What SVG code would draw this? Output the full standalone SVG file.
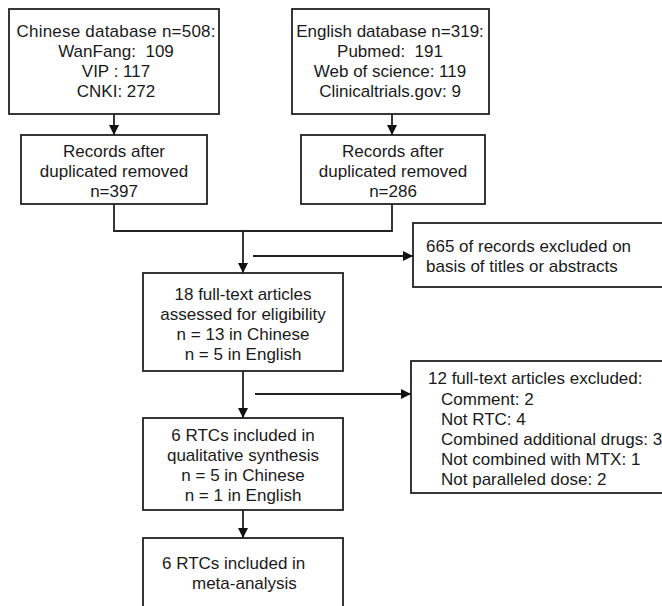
<svg xmlns="http://www.w3.org/2000/svg" width="662" height="606" viewBox="0 0 662 606">
<defs>
<marker id="ah" viewBox="0 0 10 10" refX="10" refY="5" markerWidth="10" markerHeight="10" markerUnits="userSpaceOnUse" orient="auto">
<path d="M0,0 L10,5 L0,10 z" fill="#111"/>
</marker>
<style>
rect{fill:#fff;stroke:#222;stroke-width:1.8}
text{font-family:"Liberation Sans",Arial,sans-serif;font-size:17px;fill:#1a1a1a;white-space:pre}
.c{text-anchor:middle}
.conn path{fill:none;stroke:#222;stroke-width:1.8}
</style>
</defs>
<rect x="0" y="0" width="662" height="606" style="fill:#fff;stroke:none"/>
<g id="chinese-db">
<rect x="9" y="9" width="210" height="105"/>
<text class="c" x="116" y="37" textLength="199">Chinese database n=508:</text>
<text class="c" x="116" y="57">WanFang:  109</text>
<text class="c" x="116" y="77">VIP : 117</text>
<text class="c" x="116" y="97">CNKI: 272</text>
</g>
<g id="english-db">
<rect x="292" y="9" width="197" height="105"/>
<text class="c" x="390" y="37">English database n=319:</text>
<text class="c" x="390" y="57">Pubmed:  191</text>
<text class="c" x="390" y="77">Web of science: 119</text>
<text class="c" x="390" y="97">Clinicaltrials.gov: 9</text>
</g>
<g id="cn-dedup">
<rect x="21" y="135" width="186" height="69"/>
<text class="c" x="114" y="157">Records after</text>
<text class="c" x="114" y="177">duplicated removed</text>
<text class="c" x="114" y="197">n=397</text>
</g>
<g id="en-dedup">
<rect x="301" y="135" width="184" height="69"/>
<text class="c" x="393" y="157">Records after</text>
<text class="c" x="393" y="177">duplicated removed</text>
<text class="c" x="393" y="197">n=286</text>
</g>
<g id="excluded-titles">
<rect x="413" y="223" width="260" height="64"/>
<text x="426" y="252">665 of records excluded on</text>
<text x="426" y="272">basis of titles or abstracts</text>
</g>
<g id="fulltext">
<rect x="143" y="273" width="200" height="98"/>
<text class="c" x="243" y="300">18 full-text articles</text>
<text class="c" x="243" y="320">assessed for eligibility</text>
<text class="c" x="243" y="340">n = 13 in Chinese</text>
<text class="c" x="243" y="360">n = 5 in English</text>
</g>
<g id="excluded-fulltext">
<rect x="411" y="361" width="262" height="132"/>
<text x="428" y="384">12 full-text articles excluded:</text>
<text x="441" y="405">Comment: 2</text>
<text x="441" y="425">Not RTC: 4</text>
<text x="441" y="445">Combined additional drugs: 3</text>
<text x="441" y="465">Not combined with MTX: 1</text>
<text x="441" y="485">Not paralleled dose: 2</text>
</g>
<g id="qualitative">
<rect x="143" y="418" width="200" height="92"/>
<text class="c" x="243" y="441">6 RTCs included in</text>
<text class="c" x="243" y="461">qualitative synthesis</text>
<text class="c" x="243" y="481">n = 5 in Chinese</text>
<text class="c" x="243" y="501">n = 1 in English</text>
</g>
<g id="meta">
<rect x="143" y="538" width="200" height="80"/>
<text x="162" y="569">6 RTCs included in</text>
<text x="192" y="589">meta-analysis</text>
</g>
<g class="conn" id="connectors">
<path d="M114,114 V135" marker-end="url(#ah)"/>
<path d="M392,114 V135" marker-end="url(#ah)"/>
<path d="M114,204 V231 H392 V204"/>
<path d="M243,231 V273" marker-end="url(#ah)"/>
<path d="M253,256 H413" marker-end="url(#ah)"/>
<path d="M243,371 V418" marker-end="url(#ah)"/>
<path d="M255,394 H411" marker-end="url(#ah)"/>
<path d="M243,510 V538" marker-end="url(#ah)"/>
</g>
</svg>
